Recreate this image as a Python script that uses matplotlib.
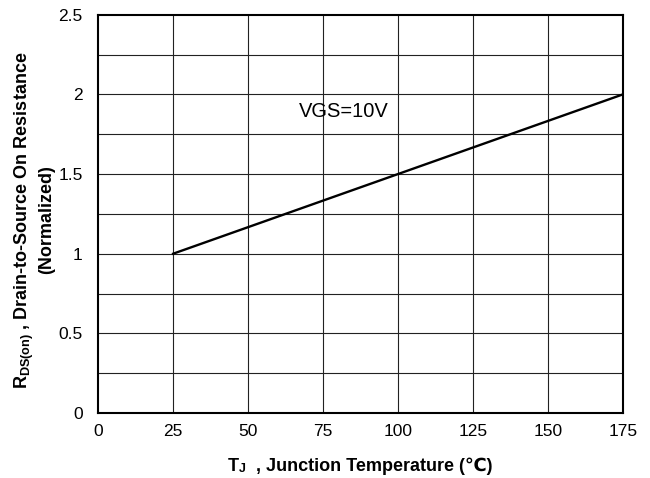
import matplotlib.pyplot as plt

plt.rcParams['font.family'] = ['Liberation Sans', 'DejaVu Sans']
plt.rcParams['mathtext.fontset'] = 'custom'
plt.rcParams['mathtext.rm'] = 'Liberation Sans'
plt.rcParams['mathtext.bf'] = 'Liberation Sans:bold'

# data
temp = [25, 175]
rds_norm = [1.0, 2.0]
xticks = [0, 25, 50, 75, 100, 125, 150, 175]
yticks = [0, 0.5, 1, 1.5, 2, 2.5]
ytick_labels = ["0", "0.5", "1", "1.5", "2", "2.5"]
ygrid = [0.25, 0.5, 0.75, 1.0, 1.25, 1.5, 1.75, 2.0, 2.25]

fig = plt.figure(figsize=(6.5, 4.78), dpi=100)
ax = fig.add_axes([0.151, 0.136, 0.807, 0.833])

for x in xticks[1:-1]:
    ax.axvline(x, color="#222222", lw=0.8, zorder=1)
for y in ygrid:
    ax.axhline(y, color="#222222", lw=0.8, zorder=1)

ax.plot(temp, rds_norm, color="black", lw=1.7, zorder=3)
ax.text(82, 1.89, "VGS=10V", fontsize=14.5, ha="center", va="center")

ax.set_xlim(0, 175)
ax.set_ylim(0, 2.5)
ax.set_xticks(xticks, [str(x) for x in xticks])
ax.set_yticks(yticks, ytick_labels)
ax.tick_params(length=0, labelsize=12.5)
ax.tick_params(axis="x", pad=8)
ax.tick_params(axis="y", pad=11)
for s in ax.spines.values():
    s.set_linewidth(1.5)

# x label: T with small J, then the rest
fs = 13
t1 = fig.text(228 / 650, 1 - 471 / 478, "T", fontsize=fs, fontweight="bold",
              va="baseline", ha="left")
t2 = ax.annotate("J", xy=(1, 0), xycoords=t1, fontsize=9, fontweight="bold",
                 va="bottom", ha="left")
ax.annotate("  , Junction Temperature (℃)", xy=(1, 0), xycoords=(t2, t1),
            fontsize=fs, fontweight="bold", va="bottom", ha="left",
            annotation_clip=False)

fig.text(34 / 650, 1 - 220 / 478,
         r"R$_{\mathbf{DS(on)}}$ , Drain-to-Source On Resistance" + "\n(Normalized)",
         fontsize=13, fontweight="bold", rotation=90, ha="center", va="center",
         multialignment="center", linespacing=1.1)

plt.savefig("out.png", dpi=100)
